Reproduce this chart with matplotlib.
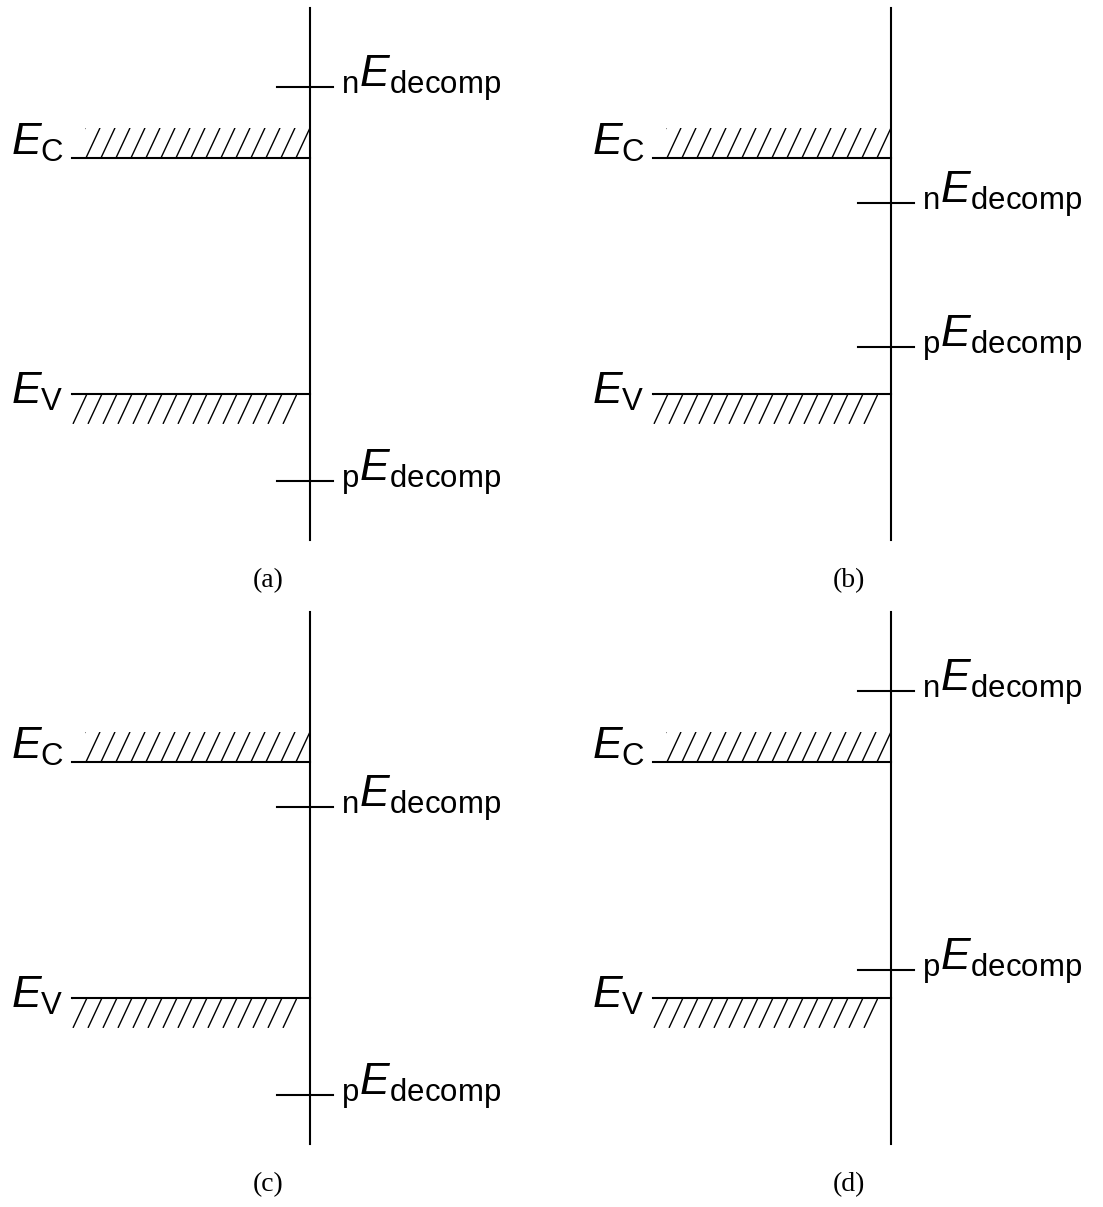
import matplotlib
matplotlib.use("Agg")
from matplotlib import pyplot as plt
from matplotlib.patches import Rectangle
import numpy as np

plt.rcParams['mathtext.fontset'] = 'custom'
plt.rcParams['mathtext.rm'] = 'Liberation Sans'
plt.rcParams['mathtext.it'] = 'Liberation Sans:italic'
plt.rcParams['font.family'] = ['Liberation Sans', 'DejaVu Sans']

# energies in units of the band gap, valence band edge at 0
panel_labels = ['(a)', '(b)', '(c)', '(d)']
e_cond = [1.0, 1.0, 1.0, 1.0]
e_val = [0.0, 0.0, 0.0, 0.0]
n_decomp = [1.30, 0.81, 0.81, 1.30]
p_decomp = [-0.37, 0.20, -0.41, 0.12]

W, H = 1103, 1207
fig = plt.figure(figsize=(W / 100, H / 100), dpi=100)

# left/top pixel corner of each panel
origins = [(0, 0), (581, 0), (0, 604), (581, 604)]
pw, ph = 518, 603
ylim = (-0.886, 1.669)
px_per_e = ph / (ylim[1] - ylim[0])

x_surf = 310          # semiconductor / electrolyte interface
x_left = 72
surf_span = (-0.619, 1.636)
band_h = 30 / px_per_e
lw = 1.5


def hatch_band(ax, x0, x1, y0, y1, step=15, dx=14):
    box = Rectangle((x0, y0), x1 - x0, y1 - y0, fill=False, lw=0)
    ax.add_patch(box)
    for xs in np.arange(x0 - dx, x1 + step, step):
        ln, = ax.plot([xs, xs + dx], [y0, y1], color='black', lw=1.0,
                      solid_capstyle='butt')
        ln.set_clip_path(box)


for i in range(4):
    l, t = origins[i]
    ax = fig.add_axes([l / W, 1 - (t + ph) / H, pw / W, ph / H])
    ax.set_xlim(0, pw)
    ax.set_ylim(ylim)
    ax.axis('off')

    ec, ev = e_cond[i], e_val[i]

    ax.plot([x_surf, x_surf], surf_span, color='black', lw=lw)

    # band edges with hatched bands
    ax.plot([x_left, x_surf], [ec, ec], color='black', lw=lw)
    ax.plot([x_left, x_surf], [ev, ev], color='black', lw=lw)
    hatch_band(ax, 85, x_surf, ec, ec + band_h)
    hatch_band(ax, x_left, 297, ev - band_h, ev)

    ax.text(11, ec + 0.015, r'$E_\mathrm{C}$', fontsize=32,
            ha='left', va='baseline')
    ax.text(11, ev - 0.040, r'$E_\mathrm{V}$', fontsize=32,
            ha='left', va='baseline')

    # decomposition potentials
    for val, s in [(n_decomp[i], 'n'), (p_decomp[i], 'p')]:
        ax.plot([277, 333], [val, val], color='black', lw=lw)
        ax.text(341, val, r'${}_\mathrm{%s}E_\mathrm{decomp}$' % s,
                fontsize=32, ha='left', va='baseline')

    ax.text(268, -0.79, panel_labels[i], fontsize=20,
            family='Liberation Serif', ha='center', va='center')

fig.savefig('out.png', dpi=100, facecolor='white')
